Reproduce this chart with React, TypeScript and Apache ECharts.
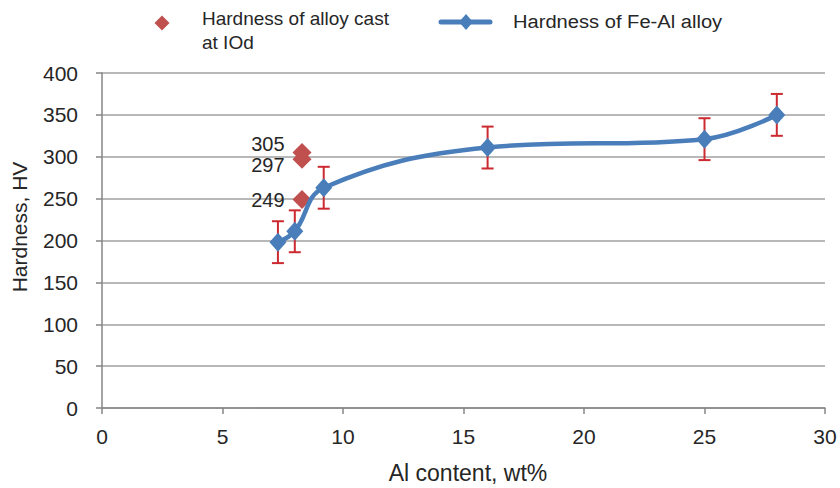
import React, { useEffect, useRef } from "react";
import * as echarts from "echarts";

const alContent = [7.3, 8.0, 9.2, 16, 25, 28];
const hardness = [198, 211, 263, 311, 321, 350];
const hardnessError = [25, 25, 25, 25, 25, 25];
const castAl = [8.3, 8.3, 8.3];
const castHardness = [305, 297, 249];
const seriesNames = ["Hardness of alloy cast\nat IOd", "Hardness of Fe-Al alloy"];
const xTitle = "Al content, wt%";
const yTitle = "Hardness, HV";

const BLUE = "#4a7ebb";
const RED_DOT = "#c0504d";
const RED_BAR = "#cc2a30";
const TEXT = "#262626";
const FONT = "'Liberation Sans', Arial, sans-serif";
const labelOffsets = [[0, -9], [0, 6], [0, 1]];

export default function App() {
  const ref = useRef<HTMLDivElement>(null);
  useEffect(() => {
    if (!ref.current) return;
    const chart = echarts.init(ref.current, undefined, { renderer: "svg" });
    const lineData = alContent.map((x, i) => [x, hardness[i]]);
    const errData = alContent.map((x, i) => [x, hardness[i] - hardnessError[i], hardness[i] + hardnessError[i]]);
    const castData = castAl.map((x, i) => ({ value: [x, castHardness[i]], label: { offset: labelOffsets[i] } }));
    chart.setOption({
      animation: false,
      backgroundColor: "#ffffff",
      grid: { left: 102, right: 15, top: 73, bottom: 80, containLabel: false },
      xAxis: {
        type: "value",
        min: 0,
        max: 30,
        interval: 5,
        axisLine: { show: true, lineStyle: { color: "#868686", width: 1.5 } },
        axisTick: { show: true, length: 6, lineStyle: { color: "#868686", width: 1.5 } },
        axisLabel: { margin: 18, fontSize: 21, color: TEXT, fontFamily: FONT },
        splitLine: { show: false },
      },
      yAxis: {
        type: "value",
        min: 0,
        max: 400,
        interval: 50,
        axisLine: { show: true, lineStyle: { color: "#868686", width: 1.5 } },
        axisTick: { show: true, length: 6, lineStyle: { color: "#868686", width: 1.5 } },
        axisLabel: { margin: 24, fontSize: 21, color: TEXT, fontFamily: FONT },
        splitLine: { show: true, lineStyle: { color: "#a0a0a0", width: 1.5 } },
      },
      graphic: [
        {
          type: "text",
          x: 19,
          y: 227,
          rotation: Math.PI / 2,
          style: { text: yTitle, fill: TEXT, font: `21px ${FONT}`, align: "center", verticalAlign: "middle" },
        },
        {
          type: "text",
          x: 468,
          y: 473,
          style: { text: xTitle, fill: TEXT, font: `23px ${FONT}`, align: "center", verticalAlign: "middle" },
        },
        {
          type: "polygon",
          shape: { points: [[162, 15.5], [169.5, 23], [162, 30.5], [154.5, 23]] },
          style: { fill: RED_DOT },
        },
        {
          type: "text",
          x: 202,
          y: 6,
          style: { text: seriesNames[0], fill: TEXT, font: `19px ${FONT}`, lineHeight: 24, align: "left", verticalAlign: "top" },
        },
        {
          type: "line",
          shape: { x1: 441, y1: 22, x2: 490, y2: 22 },
          style: { stroke: BLUE, lineWidth: 5, lineCap: "round" },
        },
        {
          type: "polygon",
          shape: { points: [[466, 14], [473, 22], [466, 30], [459, 22]] },
          style: { fill: BLUE },
        },
        {
          type: "text",
          x: 513,
          y: 21,
          scaleX: 1.06,
          style: { text: seriesNames[1], fill: TEXT, font: `19px ${FONT}`, align: "left", verticalAlign: "middle" },
        },
      ],
      series: [
        {
          name: seriesNames[0],
          type: "scatter",
          data: castData,
          symbol: "diamond",
          symbolSize: [19, 19],
          itemStyle: { color: RED_DOT, opacity: 1 },
          label: {
            show: true,
            position: "left",
            distance: 8,
            formatter: (p: any) => String(p.value[1]),
            fontSize: 20,
            lineHeight: 20,
            color: TEXT,
            fontFamily: FONT,
            opacity: 1,
          },
          z: 2,
        },
        {
          name: "error",
          type: "custom",
          data: errData,
          renderItem: (params: any, api: any) => {
            const x = api.value(0);
            const lo = api.coord([x, api.value(1)]);
            const hi = api.coord([x, api.value(2)]);
            const w = 6;
            const style = { stroke: RED_BAR, lineWidth: 2 };
            return {
              type: "group",
              children: [
                { type: "line", shape: { x1: lo[0], y1: lo[1], x2: hi[0], y2: hi[1] }, style },
                { type: "line", shape: { x1: lo[0] - w, y1: lo[1], x2: lo[0] + w, y2: lo[1] }, style },
                { type: "line", shape: { x1: hi[0] - w, y1: hi[1], x2: hi[0] + w, y2: hi[1] }, style },
              ],
            };
          },
          z: 3,
        },
        {
          name: seriesNames[1],
          type: "line",
          data: lineData,
          smooth: 0.4,
          symbol: "diamond",
          symbolSize: [17, 19],
          showAllSymbol: true,
          lineStyle: { color: BLUE, width: 4.5 },
          itemStyle: { color: BLUE },
          z: 4,
        },
      ],
    });
    return () => chart.dispose();
  }, []);
  return <div ref={ref} style={{ position: "fixed", left: 0, top: 0, width: 840, height: 488 }} />;
}
